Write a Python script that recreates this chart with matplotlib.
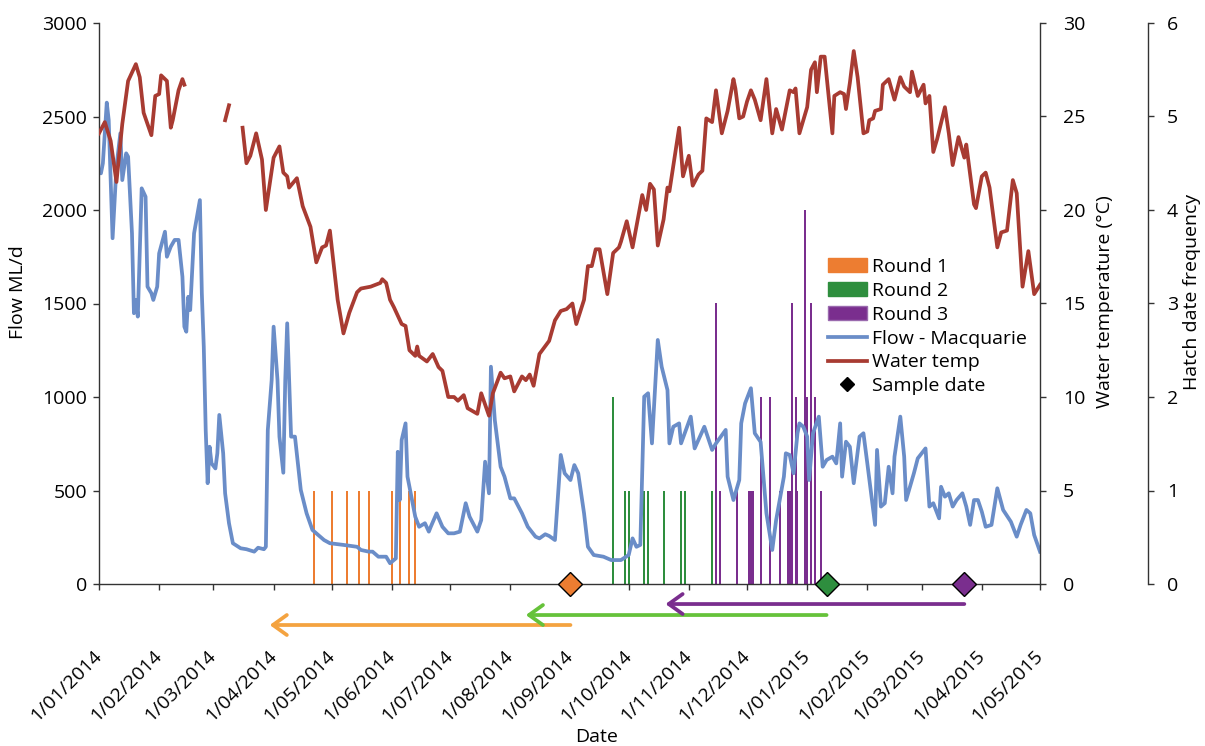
import numpy as np
import pandas as pd
import matplotlib
matplotlib.use('Agg')
import matplotlib.pyplot as plt
import matplotlib.transforms as mtransforms
from matplotlib.patches import Patch
from matplotlib.lines import Line2D

plt.rcParams['font.family'] = ['Open Sans', 'DejaVu Sans']

START = pd.Timestamp('2014-01-01')

# daily flow (days since 1 Jan 2014, ML/d)
flow_day = [0, 1, 2, 4, 5, 7, 9, 11, 12, 14, 15, 17, 18, 19, 20, 22, 24, 25, 27, 28,
            30, 31, 34, 35, 37, 39, 41, 43, 44, 45, 46, 47, 49, 52, 53, 54, 55, 56, 57, 58,
            60, 61, 62, 64, 65, 67, 69, 73, 76, 80, 82, 85, 86, 87, 89, 90, 92, 93, 95, 96,
            97, 98, 99, 101, 104, 107, 110, 116, 119, 126, 133, 135, 139, 141, 144, 148, 150, 153, 154, 155,
            156, 158, 159, 163, 165, 168, 170, 171, 174, 177, 180, 183, 186, 189, 191, 195, 197, 199, 201, 202,
            204, 207, 209, 212, 214, 218, 221, 225, 227, 230, 232, 235, 238, 240, 243, 245, 247, 250, 252, 255,
            260, 264, 269, 273, 275, 277, 279, 281, 283, 285, 288, 290, 293, 294, 296, 299, 300, 305, 307, 312,
            316, 318, 323, 324, 327, 330, 331, 333, 336, 338, 341, 344, 347, 349, 353, 354, 356, 358, 360, 361,
            363, 365, 366, 368, 371, 373, 375, 378, 380, 382, 383, 385, 387, 389, 392, 394, 396, 400, 401, 403,
            405, 407, 409, 410, 413, 415, 416, 420, 422, 426, 428, 430, 433, 434, 436, 438, 440, 442, 445, 447,
            449, 451, 453, 455, 457, 460, 463, 466, 470, 473, 475, 478, 480, 482, 485]
flow_val = [2200, 2196, 2250, 2574, 2481, 1849, 2232, 2410, 2160, 2303, 2285, 1875, 1448, 1519, 1430, 2116, 2071, 1590, 1555, 1519,
            1590, 1768, 1884, 1750, 1804, 1840, 1840, 1643, 1376, 1349, 1536, 1465, 1875, 2053, 1555, 1269, 823, 539, 734, 645,
            618, 699, 904, 699, 485, 325, 218, 191, 186, 173, 194, 186, 199, 823, 1091, 1376, 1091, 788, 595, 1091,
            1394, 1091, 788, 788, 503, 378, 289, 235, 218, 209, 199, 182, 173, 173, 146, 146, 111, 137, 707, 449,
            770, 859, 574, 360, 306, 325, 280, 306, 378, 306, 271, 271, 280, 432, 360, 280, 342, 654, 485, 1162,
            877, 627, 574, 458, 458, 378, 306, 253, 244, 266, 257, 235, 690, 592, 556, 636, 592, 378, 199, 155,
            146, 128, 128, 155, 244, 199, 209, 1002, 1020, 752, 1305, 1162, 1037, 752, 841, 859, 752, 895, 725, 841,
            717, 752, 824, 574, 449, 556, 859, 966, 1047, 806, 760, 378, 182, 342, 574, 699, 690, 592, 806, 859,
            841, 788, 556, 806, 895, 627, 663, 681, 645, 859, 574, 761, 734, 539, 788, 806, 645, 316, 717, 414,
            432, 627, 485, 681, 895, 681, 449, 592, 672, 725, 414, 432, 351, 520, 467, 485, 414, 449, 485, 414,
            316, 449, 449, 387, 306, 316, 512, 396, 333, 253, 316, 396, 378, 262, 173]

# water temperature (days since 1 Jan 2014, deg C); nan = missing record
temp_day = [0, 3, 6, 9, 12, 15, 19, 21, 23, 27, 29, 31, 32, 35, 37, 38, 41, 43, 44, 45,
            65, 67, 68, 74, 76, 78, 80, 81, 84, 86, 90, 93, 95, 97, 98, 102, 105, 109, 112, 115,
            117, 119, 123, 126, 129, 133, 135, 140, 145, 146, 148, 150, 152, 156, 158, 160, 163, 164, 165, 169,
            172, 175, 177, 180, 183, 185, 188, 190, 195, 197, 201, 203, 207, 209, 212, 214, 218, 220, 222, 224,
            227, 232, 235, 238, 241, 244, 246, 250, 252, 254, 256, 258, 262, 265, 268, 269, 272, 275, 280, 282,
            284, 286, 288, 291, 293, 294, 299, 301, 304, 306, 309, 311, 313, 316, 318, 321, 324, 327, 328, 330,
            332, 334, 336, 338, 341, 344, 347, 349, 352, 356, 358, 359, 361, 365, 367, 369, 370, 372, 374, 378,
            379, 382, 384, 385, 387, 389, 391, 394, 396, 397, 399, 400, 403, 404, 407, 410, 413, 415, 418, 419,
            422, 425, 426, 428, 430, 432, 436, 438, 440, 443, 446, 447, 451, 452, 455, 457, 459, 463, 465, 468,
            471, 473, 476, 479, 482, 485]
temp_val = [24.1, 24.7, 23.7, 21.5, 24.6, 26.9, 27.8, 27.1, 25.2, 24.0, 26.1, 26.2, 27.2, 26.9, 24.4, 24.8, 26.4, 27.0, 26.7, np.nan,
            24.8, 25.6, np.nan, 24.4, 22.5, 22.9, 23.7, 24.1, 22.7, 20.0, 22.8, 23.4, 22.0, 21.8, 21.2, 21.7, 20.2, 19.1, 17.2, 18.0,
            18.1, 18.9, 15.2, 13.4, 14.5, 15.6, 15.8, 15.9, 16.1, 16.3, 16.1, 15.2, 14.8, 13.9, 13.8, 12.5, 12.2, 12.7, 12.2, 11.9,
            12.3, 11.6, 11.4, 10.0, 10.0, 9.8, 10.1, 9.4, 9.1, 10.2, 9.0, 10.2, 11.3, 11.0, 11.1, 10.3, 11.1, 10.9, 11.2, 10.6,
            12.3, 13.0, 14.1, 14.6, 14.7, 15.0, 13.9, 15.2, 17.0, 17.0, 17.9, 17.9, 15.5, 17.7, 18.0, 18.3, 19.4, 18.0, 20.8, 20.0,
            21.4, 21.1, 18.1, 19.5, 21.2, 21.0, 24.4, 21.8, 22.9, 21.3, 21.9, 22.1, 24.9, 24.7, 26.4, 24.1, 25.3, 27.0, 26.5, 24.9,
            25.0, 25.8, 26.4, 25.9, 24.8, 27.0, 24.1, 25.4, 24.3, 26.4, 26.3, 26.5, 24.1, 25.5, 27.5, 27.9, 26.3, 28.2, 28.2, 24.1,
            26.1, 26.3, 26.2, 25.4, 26.8, 28.5, 27.1, 24.1, 24.2, 24.8, 24.9, 25.3, 25.4, 26.7, 27.0, 25.9, 27.1, 26.6, 26.3, 27.4,
            26.1, 26.7, 25.7, 26.1, 23.1, 23.8, 25.5, 24.1, 22.4, 23.9, 22.8, 23.5, 20.3, 20.1, 21.8, 22.0, 21.2, 18.0, 18.8, 18.9,
            21.6, 20.9, 15.9, 17.8, 15.5, 16.0]

# hatch dates and frequencies
round1_dates = ['2014-04-22', '2014-05-01', '2014-05-09', '2014-05-15', '2014-05-20',
                '2014-06-01', '2014-06-05', '2014-06-10', '2014-06-13']
round1_freq = [1, 1, 1, 1, 1, 1, 1, 1, 1]
round2_dates = ['2014-09-23', '2014-09-29', '2014-10-01', '2014-10-09', '2014-10-11',
                '2014-10-19', '2014-10-28', '2014-10-30', '2014-11-13']
round2_freq = [2, 1, 1, 1, 1, 1, 1, 1, 1]
round3_dates = ['2014-11-15', '2014-11-17', '2014-11-26', '2014-12-02', '2014-12-03',
                '2014-12-04', '2014-12-08', '2014-12-13', '2014-12-18', '2014-12-22',
                '2014-12-23', '2014-12-24', '2014-12-26', '2014-12-27', '2014-12-31',
                '2015-01-01', '2015-01-03', '2015-01-05', '2015-01-08']
round3_freq = [3, 1, 1, 1, 1, 1, 2, 2, 1, 1, 1, 3, 2, 1, 4, 2, 3, 2, 1]

sample_dates = ['2014-09-01', '2015-01-11', '2015-03-23']
arrow_tips = ['2014-03-30', '2014-08-09', '2014-10-20']

month_labels = ['1/01/2014', '1/02/2014', '1/03/2014', '1/04/2014', '1/05/2014', '1/06/2014',
                '1/07/2014', '1/08/2014', '1/09/2014', '1/10/2014', '1/11/2014', '1/12/2014',
                '1/01/2015', '1/02/2015', '1/03/2015', '1/04/2015', '1/05/2015']

C_R1, C_R2, C_R3 = '#ED7D31', '#2E8E3E', '#7A2E8E'
C_FLOW, C_TEMP = '#6A8DC8', '#A83B32'
ARROW_COLS = ['#F4A340', '#66C23A', '#7A2E8E']
AX_COL = '#333333'
FS = 14


def days(d):
    return START + pd.to_timedelta(np.asarray(d, dtype=float), unit='D')


fig = plt.figure(figsize=(12.05, 7.46), dpi=100)
ax = fig.add_axes([99 / 1205, 1 - 584 / 746, 941 / 1205, 561 / 746])
ax2 = ax.twinx()
ax3 = ax.twinx()
ax3.set_zorder(1)
ax.set_zorder(2)
ax2.set_zorder(3)
ax.patch.set_visible(False)

# hatch bars
for dts, fr, col, lab in [(round1_dates, round1_freq, C_R1, 'Round 1'),
                          (round2_dates, round2_freq, C_R2, 'Round 2'),
                          (round3_dates, round3_freq, C_R3, 'Round 3')]:
    ax3.bar(pd.to_datetime(dts), fr, width=1.0, color=col, linewidth=0, label=lab)

ax.plot(days(flow_day), flow_val, color=C_FLOW, lw=2.7, solid_joinstyle='round')
ax2.plot(days(temp_day), temp_val, color=C_TEMP, lw=2.7, solid_joinstyle='round')

# sample dates
for d, col in zip(sample_dates, [C_R1, C_R2, C_R3]):
    ax2.plot(pd.to_datetime([d]), [0], marker='D', ms=12, color=col, mec='black', mew=1,
             clip_on=False, zorder=10, linestyle='none')

# back-calculated hatch windows
arrow_y = [-0.0731, -0.0553, -0.0357]
for d, tip, col, yy in zip(sample_dates, arrow_tips, ARROW_COLS, arrow_y):
    ax2.annotate('', xy=(pd.Timestamp(tip), yy), xytext=(pd.Timestamp(d), yy),
                 xycoords=('data', 'axes fraction'), textcoords=('data', 'axes fraction'),
                 annotation_clip=False,
                 arrowprops=dict(arrowstyle='->,head_length=0.5,head_width=0.36', mutation_scale=20,
                                 color=col, lw=2.7, shrinkA=0, shrinkB=0))

xmin, xmax = pd.Timestamp('2014-01-01'), pd.Timestamp('2015-05-01')
ax.set_xlim(xmin, xmax)
ax.set_ylim(0, 3000)
ax2.set_ylim(0, 30)
ax3.set_ylim(0, 6)
ax.set_yticks(np.arange(0, 3001, 500))
ax2.set_yticks(np.arange(0, 31, 5))
ax3.set_yticks(np.arange(0, 7, 1))

month_ticks = pd.date_range('2014-01-01', '2015-05-01', freq='MS')
ax.set_xticks(month_ticks)
ax.set_xticklabels(month_labels, rotation=45, ha='right', va='center', rotation_mode='anchor')
shift = mtransforms.ScaledTranslation(8 / 100, 0, fig.dpi_scale_trans)
for lab in ax.get_xticklabels():
    lab.set_transform(lab.get_transform() + shift)

for a in (ax, ax2, ax3):
    a.spines['top'].set_visible(False)
    for s in a.spines.values():
        s.set_color(AX_COL)
        s.set_linewidth(1.0)
ax.spines['right'].set_visible(False)
for a in (ax2, ax3):
    a.spines['left'].set_visible(False)
    a.spines['bottom'].set_visible(False)
ax3.spines['right'].set_position(('axes', (1148 - 99) / 941))

ax.tick_params(axis='y', direction='out', length=4.5, width=1, color=AX_COL, labelsize=FS, pad=4)
ax.tick_params(axis='x', direction='out', length=4.5, width=1, color=AX_COL, labelsize=FS, pad=45)
ax2.tick_params(axis='y', direction='out', length=4.5, width=1, color=AX_COL, labelsize=FS, pad=12)
ax3.tick_params(axis='y', direction='out', length=4.5, width=1, color=AX_COL, labelsize=FS, pad=9)

fig.text(18 / 1205, 1 - 292 / 746, 'Flow ML/d', rotation=90, ha='center', va='center', fontsize=FS)
fig.text(1105 / 1205, 1 - 302 / 746, 'Water temperature (°C)', rotation=90, ha='center', va='center', fontsize=FS)
fig.text(1192 / 1205, 1 - 292 / 746, 'Hatch date frequency', rotation=90, ha='center', va='center', fontsize=FS)
fig.text(597 / 1205, 1 - 737 / 746, 'Date', ha='center', va='center', fontsize=FS)

handles = [Patch(facecolor=C_R1, edgecolor=C_R1), Patch(facecolor=C_R2, edgecolor=C_R2),
           Patch(facecolor=C_R3, edgecolor='#9A6AAE'),
           Line2D([], [], color=C_FLOW, lw=2.7), Line2D([], [], color=C_TEMP, lw=2.7),
           Line2D([], [], color='black', marker='D', ms=7, linestyle='none')]
labels = ['Round 1', 'Round 2', 'Round 3', 'Flow - Macquarie', 'Water temp', 'Sample date']
fig.legend(handles, labels, loc='upper left', bbox_to_anchor=(828 / 1205, 1 - 258 / 746),
           frameon=False, borderpad=0, borderaxespad=0, handlelength=2.0, handletextpad=0.25,
           labelspacing=0.3, fontsize=FS)

fig.savefig('out.png', dpi=100, facecolor='white')
